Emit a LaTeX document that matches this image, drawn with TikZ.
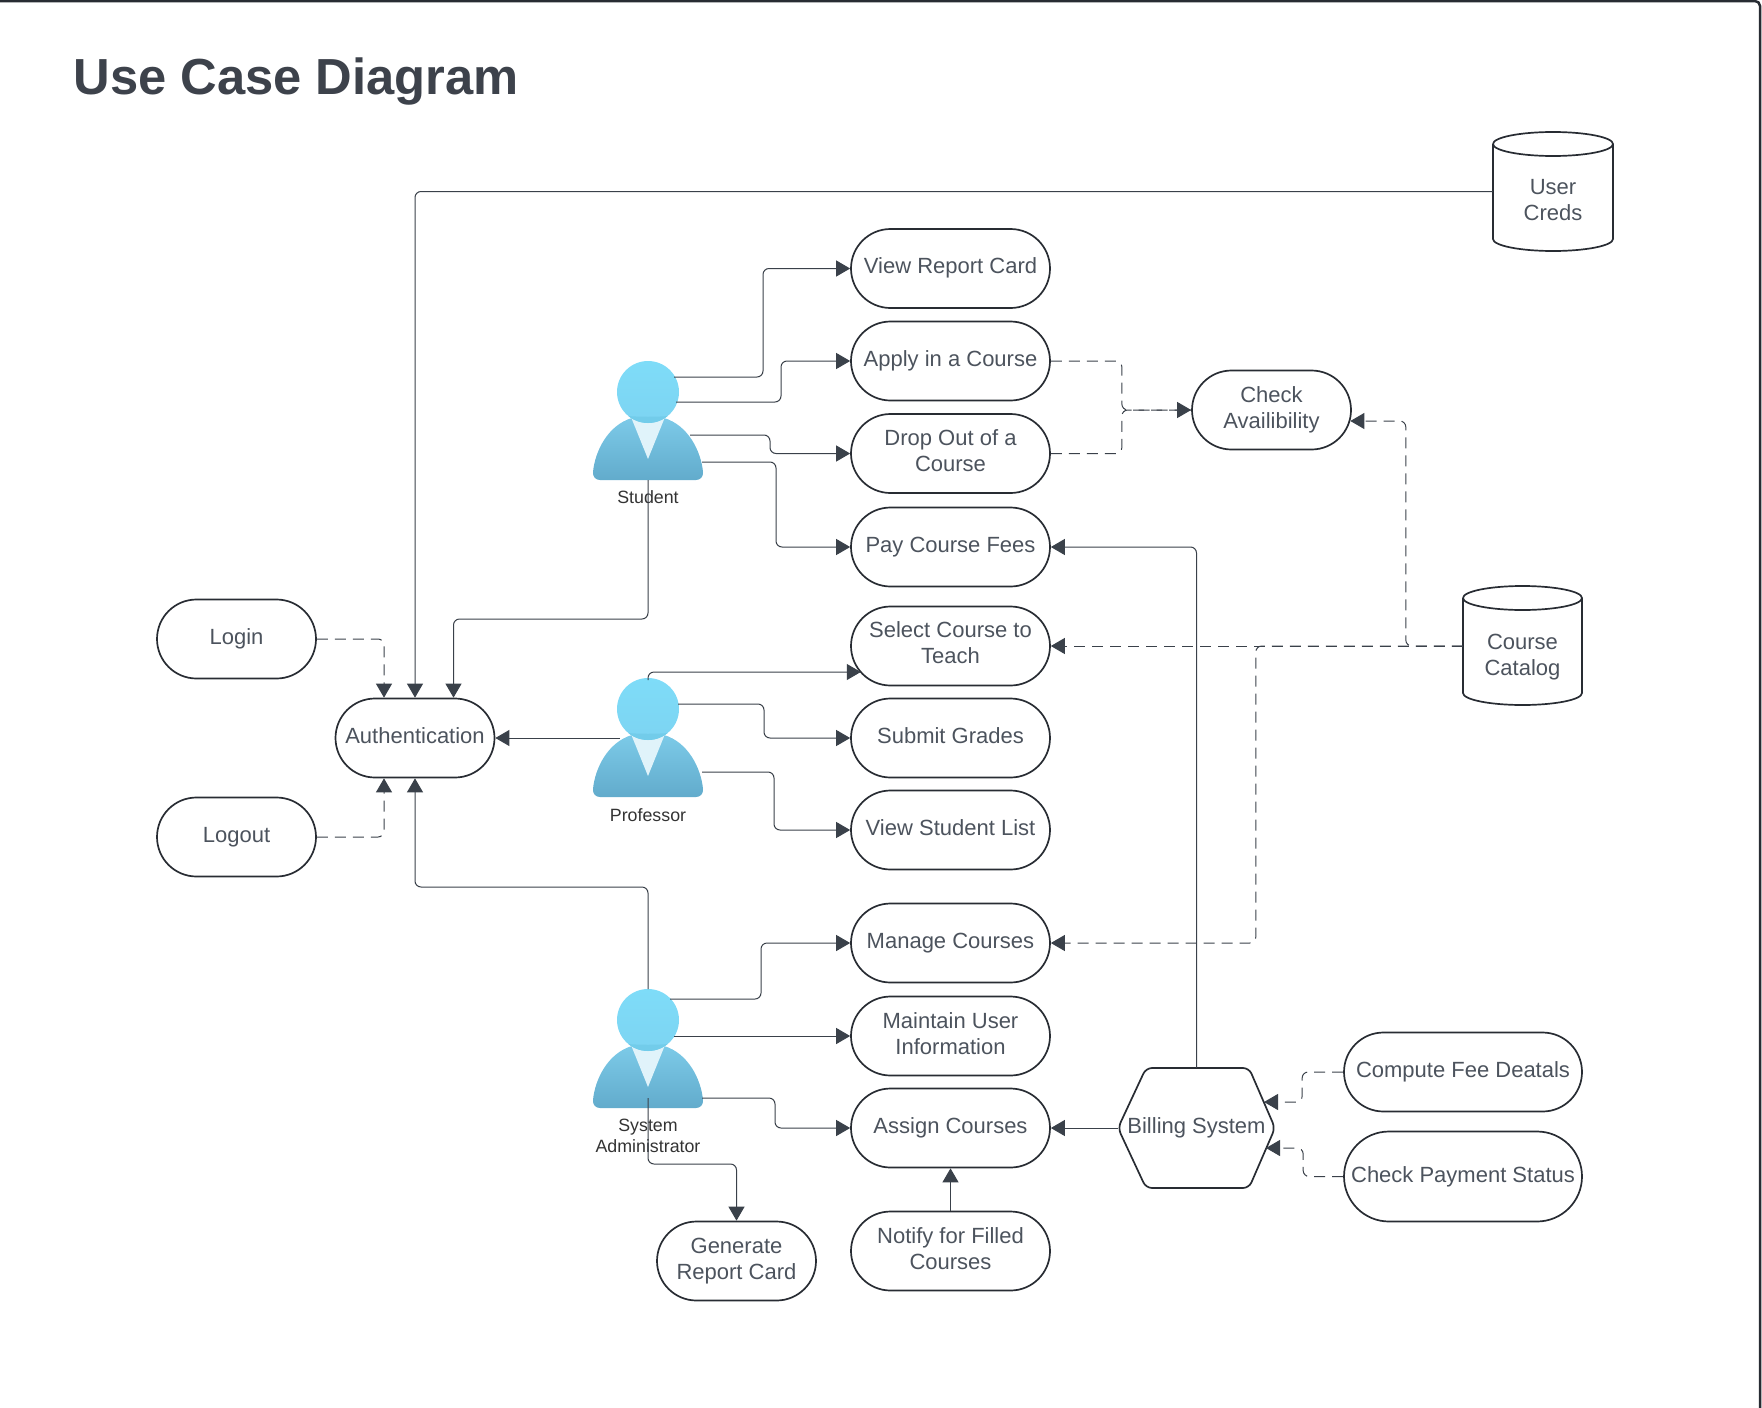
\documentclass[tikz,border=0pt]{standalone}
\usepackage{fontspec}
\setmainfont{Liberation Sans}
\usetikzlibrary{arrows.meta,shapes.misc,calc}
\definecolor{linec}{HTML}{3A414A}
\definecolor{edgec}{HTML}{282C33}
\definecolor{textc}{HTML}{4C535D}
\definecolor{titlec}{HTML}{3D424B}
\tikzset{
  pill/.style={draw=edgec,line width=1.7pt,rounded rectangle,minimum width=#1,minimum height=79pt,inner sep=0pt,
    text=textc,align=center,font=\fontsize{22}{26}\selectfont},
  pill/.default=199pt,
  dbtext/.style={inner sep=0pt,text=textc,align=center,font=\fontsize{22}{26}\selectfont},
  actorlabel/.style={inner sep=0pt,text=black!80,align=center,font=\fontsize{17.8}{21.5}\selectfont},
  shapeline/.style={draw=edgec,line width=1.7pt,line join=round},
  conn/.style={draw=linec,line width=1pt,rounded corners=6pt,-{Triangle[length=14pt,width=16pt]}},
  plain/.style={draw=linec,line width=1pt,rounded corners=6pt},
  dconn/.style={conn,dash pattern=on 11pt off 7pt},
  dplain/.style={plain,dash pattern=on 11pt off 7pt},
  pics/actorfig/.style={code={
    \shade[top color=ActorTop,bottom color=ActorBot]
      (-16,26) .. controls (-40,33) and (-53,59) .. (-55,80)
      .. controls (-55.5,85) and (-52,88) .. (-48,88) -- (48,88)
      .. controls (52,88) and (55.5,85) .. (55,80)
      .. controls (53,59) and (40,33) .. (16,26) -- cycle;
    \fill[ActorV] (-17,25) -- (17,25) -- (0,67) -- cycle;
    \shade[top color=HeadTop,bottom color=HeadBot] (0,0) circle (31);
    \begin{scope}
      \clip (0,0) circle (31);
      \fill[ActorLens] (-20,24) .. controls (-10,25) and (10,25) .. (20,24) -- (20,32) -- (-20,32) -- cycle;
    \end{scope}
  }}
}
\definecolor{ActorTop}{HTML}{7CCAE8}
\definecolor{ActorBot}{HTML}{62ABCC}
\definecolor{ActorV}{HTML}{E0F3FA}
\definecolor{HeadTop}{HTML}{7EDCF8}
\definecolor{HeadBot}{HTML}{7DD4F2}
\definecolor{ActorLens}{HTML}{72CCEA}
\begin{document}
\begin{tikzpicture}[x=1pt,y=-1pt]
\useasboundingbox (0,0) rectangle (1762,1408);
% frame: only the top and right edges show
\draw[edgec,line width=2.5pt,rounded corners=5pt] (0,1) -- (1760,1) -- (1760,1408);
% title
\node[anchor=base west,inner sep=0pt,text=titlec,font=\fontsize{50.7}{60}\selectfont\bfseries] (title) at (73.5,94) {Use Case Diagram};
% use cases
\node[pill,text depth=6.7pt] (view)    at (950.5,268.5) {View Report Card};
\node[pill] (apply)   at (950.5,361) {Apply in a Course};
\node[pill,text depth=5pt] (drop)    at (950.5,453.5) {Drop Out of a\\Course};
\node[pill] (pay)     at (950.5,547) {Pay Course Fees};
\node[pill,text depth=7pt] (select)  at (950.5,646) {Select Course to\\Teach};
\node[pill,text depth=4pt] (submit)  at (950.5,738) {Submit Grades};
\node[pill,text depth=4pt] (vlist)   at (950.5,830) {View Student List};
\node[pill] (manage)  at (950.5,943) {Manage Courses};
\node[pill,text depth=4pt] (maintain) at (950.5,1036) {Maintain User\\Information};
\node[pill] (assign)  at (950.5,1128) {Assign Courses};
\node[pill,text depth=4pt] (notify)  at (950.5,1251) {Notify for Filled\\Courses};
\node[pill=159pt] (genrep) at (736.5,1261) {Generate\\Report Card};
\node[pill=159pt,text depth=4pt] (auth)  at (415,738) {Authentication};
\node[pill=159pt] (login) at (236.5,639) {Login};
\node[pill=159pt] (logout) at (236.5,837) {Logout};
\node[pill=159pt] (check) at (1271.5,410) {Check\\Availibility};
\node[pill=238pt] (compute) at (1463,1072) {Compute Fee Deatals};
\node[pill=238pt,minimum height=90pt] (paystat) at (1463,1176.5) {Check Payment Status};
% billing hexagon
\draw[shapeline,rounded corners=6pt] (1118,1128) -- (1146,1068) -- (1249,1068) -- (1275,1128) -- (1249,1188) -- (1146,1188) -- cycle;
\node[dbtext,minimum width=157pt,minimum height=120pt] (billing) at (1196.5,1128) {Billing System};
% data stores
\draw[shapeline] (1493,144) arc[start angle=180,end angle=540,x radius=60,y radius=12]
  -- cycle (1493,144) -- (1493,239) arc[start angle=180,end angle=0,x radius=60,y radius=12] -- (1613,144);
\node[dbtext,minimum width=120pt] (creds) at (1553,200) {User\\Creds};
\draw[shapeline] (1463,598) arc[start angle=180,end angle=540,x radius=59.5,y radius=12]
  -- cycle (1463,598) -- (1463,693) arc[start angle=180,end angle=0,x radius=59.5,y radius=12] -- (1582,598);
\node[dbtext,minimum width=119pt] (catalog) at (1522.5,657.5) {Course\\Catalog};
\coordinate (credsout) at ($(creds.west)+(0,-8.5)$);
\coordinate (catout) at ($(catalog.west)+(0,-11.5)$);
% actors
\pic at (648,392) {actorfig};
\pic at (648,709) {actorfig};
\pic at (648,1020) {actorfig};
\node[actorlabel] (student) at (648,497) {Student};
\node[actorlabel] (prof) at (648,815) {Professor};
\node[actorlabel] (admin) at (648,1136) {System\\Administrator};
% attachment points on the figures
\coordinate (s1) at (674,377);
\coordinate (s2) at (676,402);
\coordinate (s3) at (690,435);
\coordinate (s4) at (702,462);
\coordinate (s5) at (648,480);
\coordinate (p0) at (648,680);
\coordinate (p1) at (678,704);
\coordinate (p2) at (702,772);
\coordinate (p3) at (620,738);
\coordinate (a0) at (648,989);
\coordinate (a1) at (670,999);
\coordinate (a2) at (674,1036);
\coordinate (a3) at (702,1098);
\coordinate (a4) at (648,1098);
\coordinate (selpt) at (860.8,672);
\coordinate (hex1) at (1264,1102);
\coordinate (hex2) at (1266,1148);
\coordinate (checkpt) at ($(check.east)+(-1.5,11)$);
% student
\draw[conn] (s1) -- ++(89,0) |- (view.west);
\draw[conn] (s2) -- ++(105,0) |- (apply.west);
\draw[conn] (s3) -- ++(80,0) |- (drop.west);
\draw[conn] (s4) -- ++(74,0) |- (pay.west);
\draw[conn] (s5) -- ++(0,139) -| ($(auth.north)+(38.5,0)$);
% professor
\draw[conn] (p0) -- ++(0,-8) -- (selpt);
\draw[conn] (p1) -- ++(86,0) |- (submit.west);
\draw[conn] (p2) -- ++(72,0) |- (vlist.west);
\draw[conn] (p3) -- (auth.east);
% administrator
\draw[conn] (a0) -- ++(0,-102) -| (auth.south);
\draw[conn] (a1) -- ++(91,0) |- (manage.west);
\draw[conn] (a2) -- (maintain.west);
\draw[conn] (a3) -- ++(73,0) |- (assign.west);
\draw[conn] (a4) -- ++(0,66) -| (genrep.north);
% others
\draw[conn] (notify.north) -- (assign.south);
\draw[conn] (billing.west) -- (assign.east);
\draw[conn] (billing.north) |- (pay.east);
\draw[conn] (credsout) -| (auth.north);
% dashed
\draw[dconn] (login.east) -| ($(auth.north)+(-31,0)$);
\draw[dconn] (logout.east) -| ($(auth.south)+(-31,0)$);
\draw[dplain] (apply.east) -- ++(71,0) |- (check.west);
\draw[dconn] (drop.east) -- ++(71,0) |- (check.west);
\draw[dconn] (catout) -- ++(-57,0) |- (checkpt);
\draw[dconn] (catout) -- (select.east);
\draw[dconn] (catout) -- ++(-207,0) |- (manage.east);
\draw[dconn] (compute.west) -- ++(-41,0) |- (hex1);
\draw[dconn] (paystat.west) -- ++(-40,0) |- (hex2);
\end{tikzpicture}
\end{document}
